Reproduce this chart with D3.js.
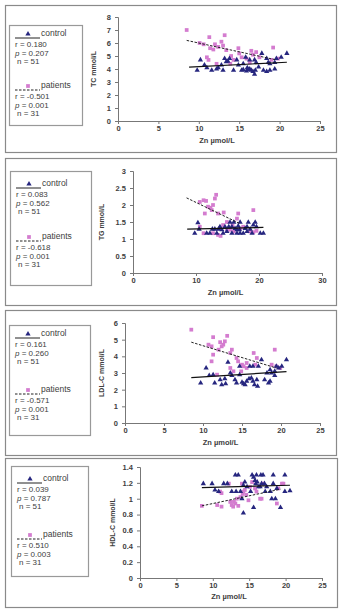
<!DOCTYPE html>
<html>
<head>
<meta charset="utf-8">
<script src="https://cdn.jsdelivr.net/npm/d3@7"></script>
<style>
  body { margin: 0; background: #fff; }
  svg { display: block; font-family: "Liberation Sans", Arial, sans-serif; }
</style>
</head>
<body>
<script>
// ---- data: Zn (µmol/L) against each lipid, control and patients ----
var tcControl = [[9.8,3.9],[10.2,4.7],[10.7,4.3],[11.6,3.9],[12.2,4.0],[12.8,4.3],[13.0,3.9],[13.2,4.8],[13.4,4.55],[13.8,4.8],[14.3,3.9],[14.7,4.7],[15.3,3.9],[15.5,3.95],[15.9,3.85],[16.1,3.95],[16.3,4.0],[16.5,3.9],[16.7,3.8],[16.3,4.7],[16.9,4.7],[16.9,3.6],[17.4,4.15],[17.8,5.2],[18.4,4.8],[18.8,4.4],[18.0,3.9],[18.4,3.8],[18.8,3.9],[19.4,4.0],[19.4,4.5],[19.6,4.8],[20.2,4.9],[20.9,5.2],[15.5,4.4],[17.1,4.5],[13.6,4.6],[14.9,4.3],[15.8,4.9],[18.6,4.5],[11.0,4.1],[12.4,4.1],[16.0,4.1],[17.0,3.9]];
var tcPatients = [[8.5,7.0],[11.3,6.45],[13.2,6.6],[10.1,6.0],[11.4,5.6],[12.8,6.1],[12.4,5.7],[11.0,4.9],[11.2,4.7],[13.4,5.45],[14.9,5.6],[13.5,4.6],[13.9,4.4],[14.3,4.7],[15.3,4.9],[15.9,4.8],[16.7,5.1],[17.1,5.3],[16.3,4.5],[19.2,5.65],[19.0,4.7],[12.0,5.9],[13.0,5.8],[10.6,5.9],[11.8,5.5],[14.0,5.0],[15.0,5.2],[16.5,5.4],[17.5,4.9],[12.2,4.4],[19.8,4.8]];
var tcControlFit = [[8.8,4.15],[20.9,4.52]];
var tcPatientsFit = [[8.5,6.2],[19.6,4.7]];

var tgControl = [[9.8,1.17],[10.3,1.48],[10.5,1.29],[11.7,1.17],[12.2,1.17],[13.0,1.29],[13.3,1.17],[13.8,1.36],[14.1,1.27],[14.6,1.36],[15.4,1.49],[15.7,1.36],[16.0,1.49],[16.2,1.31],[16.5,1.17],[16.7,1.38],[17.0,1.49],[17.0,1.17],[17.5,1.17],[18.1,1.36],[18.3,1.49],[18.6,1.29],[19.1,1.41],[19.4,1.49],[19.6,1.36],[20.2,1.17],[20.7,1.17],[15.7,1.17],[14.9,1.22],[18.1,1.22],[18.9,1.17],[14.3,1.17],[15.2,1.36],[16.5,1.27],[12.6,1.29],[17.8,1.31],[13.6,1.29],[16.9,1.27]];
var tgPatients = [[10.6,2.09],[11.2,2.14],[11.6,2.12],[11.4,1.75],[11.9,1.95],[12.5,1.85],[12.7,2.0],[13.0,2.19],[13.2,2.3],[13.5,1.75],[14.4,1.78],[16.5,1.6],[16.7,1.75],[19.1,1.85],[10.6,1.36],[11.2,1.17],[12.7,1.17],[13.5,1.12],[13.9,1.09],[14.3,1.41],[14.9,1.5],[15.4,1.27],[16.0,1.22],[17.0,1.31],[17.5,1.36],[18.6,1.22],[19.1,1.2],[19.6,1.24],[14.9,1.29],[12.3,1.92],[15.8,1.4]];
var tgControlFit = [[8.6,1.29],[20.7,1.34]];
var tgPatientsFit = [[8.5,2.21],[17.0,1.45]];

var ldlControl = [[9.7,2.4],[10.4,3.3],[10.8,2.85],[11.5,2.4],[12.2,2.6],[12.4,2.3],[12.8,2.65],[12.9,2.35],[13.2,3.65],[13.7,2.85],[13.5,3.0],[14.1,2.6],[14.3,2.4],[14.7,3.4],[15.2,2.35],[15.4,2.3],[15.6,2.5],[15.9,2.65],[16.2,2.7],[16.4,2.5],[16.6,2.3],[16.9,2.6],[17.0,2.2],[16.4,3.4],[17.1,3.4],[17.5,3.8],[17.9,2.6],[18.4,2.4],[18.6,2.5],[18.2,3.0],[18.6,3.2],[18.8,3.0],[19.2,3.1],[19.2,2.85],[19.4,3.4],[19.7,3.3],[20.1,3.4],[20.7,3.8],[14.7,2.9],[16.0,3.4],[11.3,2.9],[15.0,2.45]];
var ldlPatients = [[8.5,5.6],[11.3,5.15],[13.1,5.23],[10.7,4.7],[11.1,4.6],[12.2,4.85],[12.6,4.7],[12.8,4.9],[11.3,4.1],[11.1,3.7],[12.0,4.4],[13.5,4.2],[13.7,4.4],[14.3,3.9],[14.5,3.7],[15.0,3.5],[15.2,3.4],[15.6,3.6],[16.5,4.2],[16.9,3.9],[16.7,3.5],[19.2,4.4],[18.8,3.5],[19.4,3.4],[19.9,3.3],[11.8,2.9],[13.9,3.1],[13.5,3.3],[15.6,3.3],[14.9,3.1],[12.4,4.6]];
var ldlControlFit = [[8.5,2.72],[20.7,3.08]];
var ldlPatientsFit = [[8.5,4.85],[19.4,3.3]];

var hdlControl = [[8.7,1.19],[9.9,1.19],[10.3,1.11],[11.5,1.19],[13.1,1.3],[13.5,1.3],[12.6,1.09],[13.2,1.09],[14.2,0.82],[13.8,1.09],[14.0,1.0],[15.4,1.3],[15.6,1.27],[15.8,1.23],[16.0,1.3],[16.9,1.3],[18.3,1.3],[19.9,1.3],[15.6,0.89],[17.2,1.09],[17.9,1.09],[18.1,1.0],[18.6,1.0],[18.3,1.19],[18.8,1.13],[19.3,0.89],[19.9,1.09],[20.6,1.1],[14.4,1.21],[14.7,1.15],[14.2,1.17],[16.5,1.15],[16.7,1.19],[16.3,1.15],[15.9,1.19],[16.1,1.21],[15.2,1.09],[17.1,1.19],[12.0,1.19],[10.8,1.09],[16.6,1.3],[17.4,1.15]];
var hdlPatients = [[8.5,0.91],[11.0,1.09],[11.2,1.07],[10.6,0.92],[11.2,0.9],[12.2,1.19],[12.4,0.96],[12.6,0.92],[12.8,0.9],[13.1,0.94],[13.3,1.0],[13.8,1.02],[14.0,1.19],[14.2,1.09],[14.4,1.11],[14.6,1.05],[15.1,1.15],[15.4,1.21],[15.8,1.13],[16.0,1.09],[16.5,1.0],[16.7,1.0],[16.9,1.19],[18.8,0.94],[19.5,1.19],[19.7,1.19],[19.0,1.13],[14.9,0.98],[13.5,0.91],[12.9,0.96],[14.1,1.06]];
var hdlControlFit = [[8.5,1.14],[20.6,1.17]];
var hdlPatientsFit = [[8.5,0.91],[19.3,1.12]];

// legend statistics: control then patients
var tcStats = [["0.180", "0.207", "51"], ["-0.501", "0.001", "31"]];
var tgStats = [["0.083", "0.562", "51"], ["-0.618", "0.001", "31"]];
var ldlStats = [["0.161", "0.260", "51"], ["-0.571", "0.001", "31"]];
var hdlStats = [["0.039", "0.787", "51"], ["0.510", "0.003", "31"]];

var tcTicks = [0, 1, 2, 3, 4, 5, 6, 7, 8];
var tgTicks = [0, 0.5, 1, 1.5, 2, 2.5, 3];
var ldlTicks = [0, 1, 2, 3, 4, 5, 6];
var hdlTicks = [0, 0.2, 0.4, 0.6, 0.8, 1, 1.2, 1.4];
var znTicks = [0, 5, 10, 15, 20, 25];
var znTicksWide = [0, 10, 20, 30];

var panels = [
  {frame: [5, 5, 331, 147], legend: [9, 25, 73, 100], rowCtl: 8, rowPat: 60,
   x: [118, 320], xMax: 25, xTicks: znTicks, y: [121, 17], yTicks: tcTicks,
   yLabel: "TC mmol/L", yLabelX: 96, xLabelY: 143,
   control: tcControl, patients: tcPatients, controlFit: tcControlFit, patientsFit: tcPatientsFit, stats: tcStats},
  {frame: [5, 158, 331, 147], legend: [10, 171, 81, 114], rowCtl: 12, rowPat: 65,
   x: [133, 322], xMax: 30, xTicks: znTicksWide, y: [273, 171], yTicks: tgTicks,
   yLabel: "TG mmol/L", yLabelX: 104, xLabelY: 295,
   control: tgControl, patients: tgPatients, controlFit: tgControlFit, patientsFit: tgPatientsFit, stats: tgStats},
  {frame: [5, 310, 331, 145], legend: [9, 325, 81, 110], rowCtl: 8, rowPat: 64,
   x: [125, 320], xMax: 25, xTicks: znTicks, y: [423, 323], yTicks: ldlTicks,
   yLabel: "LDL-C mmol/L", yLabelX: 104, xLabelY: 445,
   control: ldlControl, patients: ldlPatients, controlFit: ldlControlFit, patientsFit: ldlPatientsFit, stats: ldlStats},
  {frame: [5, 458, 332, 149], legend: [11, 466, 77, 110], rowCtl: 12, rowPat: 68,
   x: [140, 322], xMax: 25, xTicks: znTicks, y: [578, 467], yTicks: hdlTicks,
   yLabel: "HDL-C mmol/L", yLabelX: 115, xLabelY: 599,
   control: hdlControl, patients: hdlPatients, controlFit: hdlControlFit, patientsFit: hdlPatientsFit, stats: hdlStats}
];

var navy = "#26267f", pink = "#d47ccf", ink = "#404040";

var svg = d3.select("body").append("svg")
    .attr("width", 345)
    .attr("height", 615);

var triangle = d3.symbol().type(d3.symbolTriangle).size(12),
    square = d3.symbol().type(d3.symbolSquare).size(14);

panels.forEach(function(p) {
  var g = svg.append("g");

  g.append("rect")
      .attr("x", p.frame[0] + 0.5).attr("y", p.frame[1] + 0.5)
      .attr("width", p.frame[2]).attr("height", p.frame[3])
      .style("fill", "none").style("stroke", "#8a8a8a").style("stroke-width", 1.2);

  var x = d3.scaleLinear().domain([0, p.xMax]).range(p.x),
      y = d3.scaleLinear().domain([0, d3.max(p.yTicks)]).range(p.y);

  var xAxis = g.append("g")
      .attr("transform", "translate(0," + p.y[0] + ")")
      .call(d3.axisBottom(x).tickValues(p.xTicks).tickSize(3).tickPadding(2).tickFormat(d3.format("d")));
  var yAxis = g.append("g")
      .attr("transform", "translate(" + p.x[0] + ",0)")
      .call(d3.axisLeft(y).tickValues(p.yTicks).tickSize(3).tickFormat(function(d) { return String(+d.toFixed(1)); }));

  [xAxis, yAxis].forEach(function(a) {
    a.select(".domain").style("stroke", "#777");
    a.selectAll(".tick line").style("stroke", "#777");
    a.selectAll(".tick text").style("fill", ink).style("font-size", "7.5px").style("font-weight", "bold");
  });
  yAxis.selectAll(".tick text").attr("x", -7);

  g.append("text")
      .attr("x", (p.x[0] + p.x[1]) / 2 - 2).attr("y", p.xLabelY)
      .attr("text-anchor", "middle")
      .style("font-size", "7.5px").style("font-weight", "bold").style("fill", ink)
      .text("Zn µmol/L");

  g.append("text")
      .attr("transform", "translate(" + p.yLabelX + "," + ((p.y[0] + p.y[1]) / 2) + ") rotate(-90)")
      .attr("text-anchor", "middle")
      .style("font-size", "7px").style("font-weight", "bold").style("fill", ink)
      .text(p.yLabel);

  // points
  g.selectAll(".pat")
      .data(p.patients)
      .enter().append("path")
      .attr("class", "pat")
      .attr("transform", function(d) { return "translate(" + x(d[0]) + "," + y(d[1]) + ")"; })
      .attr("d", square)
      .style("fill", pink);

  g.selectAll(".ctl")
      .data(p.control)
      .enter().append("path")
      .attr("class", "ctl")
      .attr("transform", function(d) { return "translate(" + x(d[0]) + "," + y(d[1]) + ")"; })
      .attr("d", triangle)
      .style("fill", navy);

  // trend lines
  var line = d3.line().x(function(d) { return x(d[0]); }).y(function(d) { return y(d[1]); });
  g.append("path").datum(p.controlFit).attr("d", line)
      .style("fill", "none").style("stroke", "#111").style("stroke-width", 1.2);
  g.append("path").datum(p.patientsFit).attr("d", line)
      .style("fill", "none").style("stroke", "#222").style("stroke-width", 1)
      .style("stroke-dasharray", "2.5,1.5");

  // legend box
  var L = p.legend;
  var lg = g.append("g").attr("transform", "translate(" + L[0] + "," + L[1] + ")");
  lg.append("rect")
      .attr("x", 0.5).attr("y", 0.5).attr("width", L[2]).attr("height", L[3])
      .style("fill", "#fff").style("stroke", "#999").style("stroke-width", 1.2);

  [["control", p.rowCtl, triangle, navy, null], ["patients", p.rowPat, square, pink, "2.5,1.5"]].forEach(function(row, i) {
    var cy = row[1];
    lg.append("line")
        .attr("x1", 6).attr("x2", 31).attr("y1", cy + 5).attr("y2", cy + 5)
        .style("stroke", "#222").style("stroke-width", 1)
        .style("stroke-dasharray", row[4]);
    lg.append("path")
        .attr("transform", "translate(19," + (cy + 1) + ")")
        .attr("d", row[2]).style("fill", row[3]);
    lg.append("text")
        .attr("x", 32).attr("y", cy + 3)
        .style("font-size", "8.5px").style("fill", ink)
        .text(row[0]);

    var s = p.stats[i];
    var lines = [["r", s[0]], ["p", s[1]], ["n", s[2]]];
    lines.forEach(function(t, k) {
      var tx = lg.append("text")
          .attr("x", k === 2 ? 8 : 6).attr("y", cy + 14 + k * 8.5)
          .style("font-size", "8px").style("fill", ink);
      tx.append("tspan").style("font-style", t[0] === "p" ? "italic" : "normal").text(t[0]);
      tx.append("tspan").text(" = " + t[1]);
    });
  });
});
</script>
</body>
</html>
